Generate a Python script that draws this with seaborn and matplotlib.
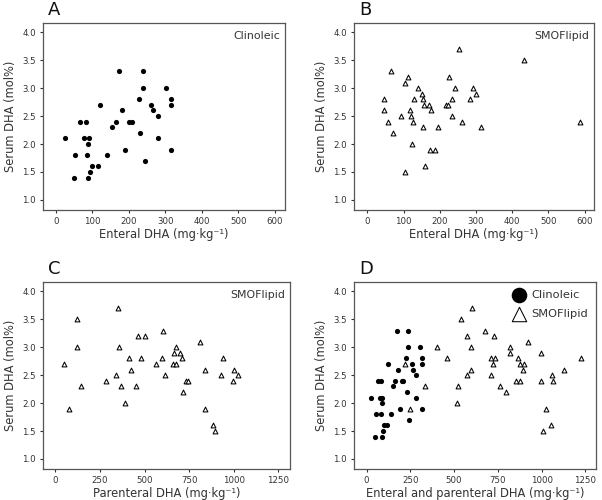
import matplotlib as mpl
mpl.use('Agg')
import matplotlib.pyplot as plt
import pandas as pd
import seaborn as sns

# Clinoleic group: enteral DHA vs serum DHA (panel A, also dots in D)
clino_enteral = [174, 238, 238, 303, 228, 316, 316, 121, 260, 182, 266, 280,
                 67, 83, 165, 200, 209, 153, 26, 77, 90, 231, 280, 87, 191,
                 316, 54, 85, 139, 244, 99, 116, 94, 50, 88]
clino_dha = [3.3, 3.3, 3.0, 3.0, 2.8, 2.8, 2.7, 2.7, 2.7, 2.6, 2.6, 2.5,
             2.4, 2.4, 2.4, 2.4, 2.4, 2.3, 2.1, 2.1, 2.1, 2.2, 2.1, 2.0, 1.9,
             1.9, 1.8, 1.8, 1.8, 1.7, 1.6, 1.6, 1.5, 1.4, 1.4]

# SMOFlipid group, panel B (enteral)
smof_enteral = [254, 65, 111, 105, 225, 139, 242, 292, 150, 300, 45, 130, 153,
                235, 283, 157, 171, 216, 222, 47, 117, 176, 92, 120, 235, 57,
                126, 261, 154, 194, 314, 72, 122, 174, 186, 159, 105, 432, 586]
smof_enteral_dha = [3.7, 3.3, 3.2, 3.1, 3.2, 3.0, 3.0, 3.0, 2.9, 2.9, 2.8, 2.8,
                    2.8, 2.8, 2.8, 2.7, 2.7, 2.7, 2.7, 2.6, 2.6, 2.6, 2.5, 2.5,
                    2.5, 2.4, 2.4, 2.4, 2.3, 2.3, 2.3, 2.2, 2.0, 1.9, 1.9, 1.6,
                    1.5, 3.5, 2.4]

# SMOFlipid group, panel C (parenteral)
smof_parenteral = [354, 606, 463, 504, 810, 356, 675, 664, 698, 412, 478, 595,
                   711, 942, 562, 657, 679, 422, 838, 1004, 341, 612, 931, 1026,
                   285, 731, 743, 994, 366, 450, 716, 390, 836, 886, 894, 50, 77,
                   123, 121, 144]
smof_parenteral_dha = [3.7, 3.3, 3.2, 3.2, 3.1, 3.0, 3.0, 2.9, 2.9, 2.8, 2.8,
                       2.8, 2.8, 2.8, 2.7, 2.7, 2.7, 2.6, 2.6, 2.6, 2.5, 2.5,
                       2.5, 2.5, 2.4, 2.4, 2.4, 2.4, 2.3, 2.3, 2.2, 2.0, 1.9,
                       1.6, 1.5, 2.7, 1.9, 3.5, 3.0, 2.3]

# SMOFlipid group, panel D (enteral + parenteral)
smof_total = [605, 540, 679, 576, 727, 923, 405, 594, 820, 820, 995, 462, 710,
              736, 868, 217, 721, 879, 902, 597, 894, 1130, 573, 710, 1062, 852,
              875, 995, 1064, 335, 521, 761, 795, 516, 249, 1025, 1054, 1008, 1225]
smof_total_dha = [3.7, 3.5, 3.3, 3.2, 3.2, 3.1, 3.0, 3.0, 3.0, 2.9, 2.9, 2.8,
                  2.8, 2.8, 2.8, 2.7, 2.7, 2.7, 2.7, 2.6, 2.6, 2.6, 2.5, 2.5,
                  2.5, 2.4, 2.4, 2.4, 2.4, 2.3, 2.3, 2.3, 2.2, 2.0, 1.9, 1.9,
                  1.6, 1.5, 2.8]

y_ticks = [1.0, 1.5, 2.0, 2.5, 3.0, 3.5, 4.0]
x_ticks_small = [0, 100, 200, 300, 400, 500, 600]
x_ticks_large = [0, 250, 500, 750, 1000, 1250]

sns.set_theme(style='white')
plt.rcParams['font.family'] = ['DejaVu Sans']

text_col = '#333333'
spine_col = '#555555'

fig = plt.figure(figsize=(6.02, 5.0), dpi=100)
W, H = 602.0, 500.0


def make_axes(l, r, t, b):
    return fig.add_axes([l / W, 1 - b / H, (r - l) / W, (b - t) / H])


def style_axes(ax, xlabel, xticks, xlim, letter, note=None):
    ax.set_ylim(0.82, 4.17)
    ax.set_xlim(*xlim)
    ax.set_yticks(y_ticks)
    ax.set_yticklabels(['%.1f' % v for v in y_ticks])
    ax.set_xticks(xticks)
    ax.tick_params(labelsize=6.2, colors=text_col, length=2.5, width=0.8,
                   direction='out', bottom=True, left=True, pad=2.5)
    for sp in ax.spines.values():
        sp.set_visible(True)
        sp.set_color(spine_col)
        sp.set_linewidth(0.9)
    ax.set_xlabel(xlabel, fontsize=8.3, color=text_col, labelpad=1.5)
    ax.set_ylabel('Serum DHA (mol%)', fontsize=8.3, color=text_col, labelpad=4)
    ax.text(0.02, 1.02, letter, transform=ax.transAxes, fontsize=13,
            color='#111111', ha='left', va='bottom')
    if note:
        ax.text(0.98, 0.93, note, transform=ax.transAxes, fontsize=7.9,
                color=text_col, ha='right', va='center')


dot_kw = dict(marker='o', color='black', s=14, linewidth=0)
tri_kw = dict(marker='^', facecolor='white', edgecolor='black', s=12, linewidth=0.75)

# Panel A
axA = make_axes(43, 285, 22.7, 210)
sns.scatterplot(x=clino_enteral, y=clino_dha, ax=axA, **dot_kw)
style_axes(axA, 'Enteral DHA (mg·kg⁻¹)', x_ticks_small, (-35, 628), 'A', 'Clinoleic')

# Panel B
axB = make_axes(354, 594, 22.7, 210)
sns.scatterplot(x=smof_enteral, y=smof_enteral_dha, ax=axB, **tri_kw)
style_axes(axB, 'Enteral DHA (mg·kg⁻¹)', x_ticks_small, (-37, 626), 'B', 'SMOFlipid')

# Panel C
axC = make_axes(43, 290, 282, 469)
sns.scatterplot(x=smof_parenteral, y=smof_parenteral_dha, ax=axC, **tri_kw)
style_axes(axC, 'Parenteral DHA (mg·kg⁻¹)', x_ticks_large, (-69, 1315), 'C', 'SMOFlipid')

# Panel D
axD = make_axes(354, 596, 282, 469)
df_d = pd.concat([
    pd.DataFrame({'dha_in': clino_enteral, 'serum': clino_dha, 'group': 'Clinoleic'}),
    pd.DataFrame({'dha_in': smof_total, 'serum': smof_total_dha, 'group': 'SMOFlipid'}),
])
sub = df_d[df_d['group'] == 'Clinoleic']
sns.scatterplot(data=sub, x='dha_in', y='serum', ax=axD, label='Clinoleic', **dot_kw)
sub = df_d[df_d['group'] == 'SMOFlipid']
sns.scatterplot(data=sub, x='dha_in', y='serum', ax=axD, label='SMOFlipid', **tri_kw)
style_axes(axD, 'Enteral and parenteral DHA (mg·kg⁻¹)', x_ticks_large, (-72, 1311), 'D')
leg = axD.legend(loc='upper right', frameon=False, fontsize=8.2, markerscale=3.0,
                 handletextpad=0.1, borderpad=0.5, labelspacing=0.75,
                 borderaxespad=0.2)
for t in leg.get_texts():
    t.set_color(text_col)

fig.savefig('out.png', dpi=100)
